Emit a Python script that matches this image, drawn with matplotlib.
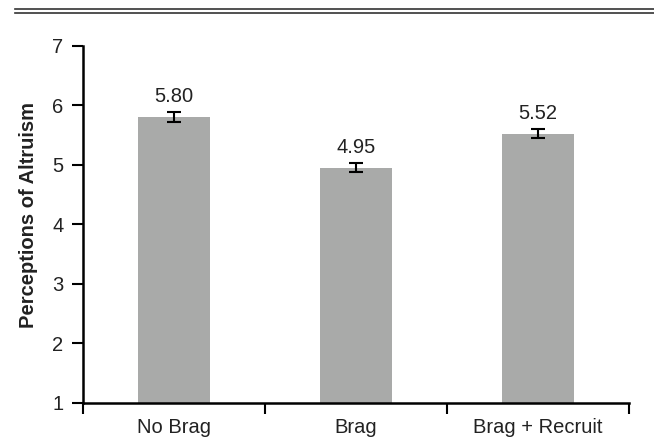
import matplotlib
matplotlib.use("Agg")
import matplotlib.pyplot as plt
from matplotlib.lines import Line2D
import numpy as np

categories = ["No Brag", "Brag", "Brag + Recruit"]
means = [5.80, 4.95, 5.52]
errors = [0.08, 0.08, 0.08]
value_labels = ["5.80", "4.95", "5.52"]
yticks = [1, 2, 3, 4, 5, 6, 7]

plt.rcParams['font.family'] = ['Liberation Sans', 'DejaVu Sans']

fig = plt.figure(figsize=(6.54, 4.38), dpi=100)
ax = fig.add_axes([83/654, 1 - 403/438, (629 - 83)/654, (403 - 45.5)/438])

x = np.arange(len(categories))
ax.bar(x, [m - 1 for m in means], bottom=1, width=0.4, color="#a9aaa9", zorder=2)
ax.errorbar(x, means, yerr=errors, fmt="none", ecolor="black", elinewidth=1.5,
            capsize=5, capthick=1.5, zorder=3)
for xi, m, lab in zip(x, means, value_labels):
    ax.text(xi, m + 0.25, lab, ha="center", va="baseline", fontsize=14.5, color="#222222")

ax.set_xlim(-0.5, 2.5)
ax.set_ylim(1, 7)
ax.set_yticks(yticks)
ax.set_yticklabels([str(t) for t in yticks], fontsize=14.5)
ax.tick_params(axis="y", direction="out", length=8, width=1.5, pad=6, labelcolor="#222222")

ax.set_xticks([-0.5, 0.5, 1.5, 2.5])
ax.set_xticklabels([])
ax.tick_params(axis="x", direction="out", length=8, width=1.5)
ax.set_xticks(x, minor=True)
ax.set_xticklabels(categories, minor=True, fontsize=14.5, color="#222222")
ax.tick_params(axis="x", which="minor", length=0, pad=11)

for s in ["top", "right"]:
    ax.spines[s].set_visible(False)
for s in ["left", "bottom"]:
    ax.spines[s].set_linewidth(1.8)

ax.set_ylabel("Perceptions of Altruism", fontsize=14.5, fontweight="bold",
              color="#222222")
ax.yaxis.set_label_coords(-0.082, 0.526)

fig.add_artist(Line2D([15/654, 1], [1 - 9/438, 1 - 9/438], color="#333333", lw=1.2,
                      transform=fig.transFigure))
fig.add_artist(Line2D([15/654, 1], [1 - 13/438, 1 - 13/438], color="#333333", lw=1.2,
                      transform=fig.transFigure))

fig.savefig("out.png", dpi=100)
